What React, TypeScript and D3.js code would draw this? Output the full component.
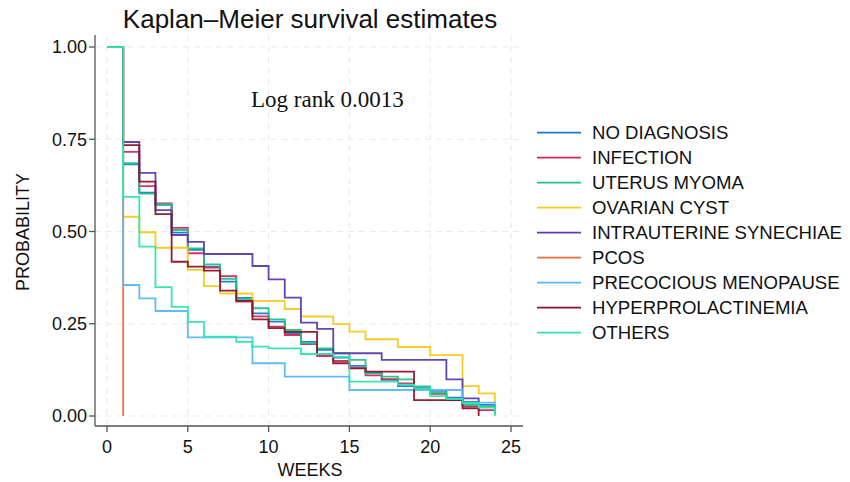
import React from 'react';
import * as d3 from 'd3';

// Survival estimate at each week (index = week)
const noDiagnosis = [1, 0.682, 0.605, 0.572, 0.497, 0.45, 0.405, 0.364, 0.32, 0.278, 0.256, 0.225, 0.201, 0.179, 0.158, 0.136, 0.118, 0.098, 0.081, 0.077, 0.068, 0.05, 0.038, 0.03, 0.02];
const infection = [1, 0.716, 0.623, 0.576, 0.51, 0.441, 0.402, 0.379, 0.31, 0.27, 0.242, 0.2195, 0.195, 0.1626, 0.149, 0.13, 0.11, 0.1, 0.0886, 0.075, 0.06, 0.043, 0.027, 0.016, 0.008];
const uterusMyoma = [1, 0.685, 0.6025, 0.574, 0.504, 0.454, 0.411, 0.372, 0.316, 0.292, 0.262, 0.233, 0.197, 0.183, 0.17, 0.152, 0.1157, 0.1065, 0.0995, 0.08, 0.063, 0.045, 0.03, 0.025, 0.005];
const ovarianCyst = [1, 0.54, 0.498, 0.456, 0.456, 0.396, 0.352, 0.332, 0.332, 0.312, 0.312, 0.29, 0.2696, 0.2696, 0.249, 0.2285, 0.208, 0.208, 0.187, 0.187, 0.165, 0.165, 0.081, 0.0615, 0.03];
const synechiae = [1, 0.7425, 0.659, 0.558, 0.4905, 0.472, 0.439, 0.439, 0.439, 0.4065, 0.37, 0.3206, 0.253, 0.236, 0.17, 0.17, 0.17, 0.152, 0.152, 0.152, 0.152, 0.0995, 0.048, 0.035];
const pcos = [1, 0];
const precocious = [1, 0.355, 0.319, 0.2845, 0.2845, 0.213, 0.213, 0.213, 0.213, 0.143, 0.143, 0.1065, 0.1065, 0.1065, 0.1065, 0.0705, 0.0705, 0.0705, 0.0705, 0.0705, 0.0705, 0.0705, 0.036, 0.036, 0.03];
const hyperprolactinemia = [1, 0.734, 0.635, 0.547, 0.418, 0.405, 0.394, 0.34, 0.312, 0.262, 0.238, 0.228, 0.228, 0.168, 0.143, 0.129, 0.12, 0.12, 0.12, 0.043, 0.043, 0.043, 0.021, 0];
const others = [1, 0.594, 0.459, 0.349, 0.296, 0.255, 0.215, 0.215, 0.201, 0.188, 0.183, 0.183, 0.168, 0.168, 0.16, 0.093, 0.093, 0.093, 0.085, 0.075, 0.054, 0.046, 0.035, 0.0225, 0];

const seriesNames = ['NO DIAGNOSIS', 'INFECTION', 'UTERUS MYOMA', 'OVARIAN CYST', 'INTRAUTERINE SYNECHIAE', 'PCOS', 'PRECOCIOUS MENOPAUSE', 'HYPERPROLACTINEMIA', 'OTHERS'];
const seriesValues = [noDiagnosis, infection, uterusMyoma, ovarianCyst, synechiae, pcos, precocious, hyperprolactinemia, others];
const seriesColors = ['#1f78d1', '#d2285a', '#1ec486', '#f5c91a', '#5b3cb0', '#f26a3d', '#58b8f6', '#8a1427', '#2ee6b0'];

const xTicks = [0, 5, 10, 15, 20, 25];
const yTicks = [0, 0.25, 0.5, 0.75, 1];

const font = '"Liberation Sans", Arial, Helvetica, sans-serif';

export default function App() {
  const width = 850;
  const height = 482;
  // plot region
  const left = 95, right = 523, top = 35, bottom = 426;

  const x = d3.scaleLinear().domain([0, 25]).range([107, 511]);
  const y = d3.scaleLinear().domain([0, 1]).range([416, 47]);

  const line = d3.line<number>()
    .x((_, i) => x(i))
    .y(d => y(d))
    .curve(d3.curveStepAfter);

  return (
    <svg width={width} height={height} style={{ position: 'absolute', left: 0, top: 0, background: '#fff' }}>
      <rect width={width} height={height} fill="#fff" />

      {/* title */}
      <text x={310} y={28} textAnchor="middle" fontFamily={font} fontSize={26} fill="#111">
        Kaplan–Meier survival estimates
      </text>

      {/* grid */}
      {xTicks.map(t => (
        <line key={'gx' + t} x1={x(t)} x2={x(t)} y1={top} y2={bottom} stroke="#ebebeb" strokeWidth={1.2} strokeDasharray="6,5" />
      ))}
      {yTicks.map(t => (
        <line key={'gy' + t} x1={left} x2={right} y1={y(t)} y2={y(t)} stroke="#ebebeb" strokeWidth={1.2} strokeDasharray="6,5" />
      ))}

      {/* survival curves */}
      {seriesValues.map((vals, i) => (
        <path key={seriesNames[i]} d={line(vals) || ''} fill="none" stroke={seriesColors[i]} strokeWidth={1.8} strokeOpacity={0.95} />
      ))}

      {/* axes */}
      <line x1={left} x2={left} y1={top} y2={bottom} stroke="#555" strokeWidth={1.3} />
      <line x1={left} x2={right} y1={bottom} y2={bottom} stroke="#555" strokeWidth={1.3} />
      {yTicks.map(t => (
        <g key={'yt' + t}>
          <line x1={left - 6} x2={left} y1={y(t)} y2={y(t)} stroke="#555" strokeWidth={1.3} />
          <text x={87} y={y(t)} dy="0.36em" textAnchor="end" fontFamily={font} fontSize={18} fill="#111">
            {d3.format('.2f')(t)}
          </text>
        </g>
      ))}
      {xTicks.map(t => (
        <g key={'xt' + t}>
          <line x1={x(t)} x2={x(t)} y1={bottom} y2={bottom + 6} stroke="#555" strokeWidth={1.3} />
          <text x={x(t)} y={453} textAnchor="middle" fontFamily={font} fontSize={18} fill="#111">
            {t}
          </text>
        </g>
      ))}

      <text x={310} y={476} textAnchor="middle" fontFamily={font} fontSize={18} fill="#111">WEEKS</text>
      <text transform="translate(29,232) rotate(-90)" textAnchor="middle" fontFamily={font} fontSize={18} fill="#111">PROBABILITY</text>

      {/* log rank annotation */}
      <text x={251} y={107} fontFamily='"Liberation Serif", "Times New Roman", serif' fontSize={23} fill="#111">
        Log rank 0.0013
      </text>

      {/* legend */}
      {seriesNames.map((name, i) => {
        const ly = 132.7 + i * 25;
        return (
          <g key={'lg' + name}>
            <line x1={537} x2={581} y1={ly} y2={ly} stroke={seriesColors[i]} strokeWidth={1.8} />
            <text x={592} y={ly} dy="0.36em" fontFamily={font} fontSize={18.6} fill="#111">{name}</text>
          </g>
        );
      })}
    </svg>
  );
}
